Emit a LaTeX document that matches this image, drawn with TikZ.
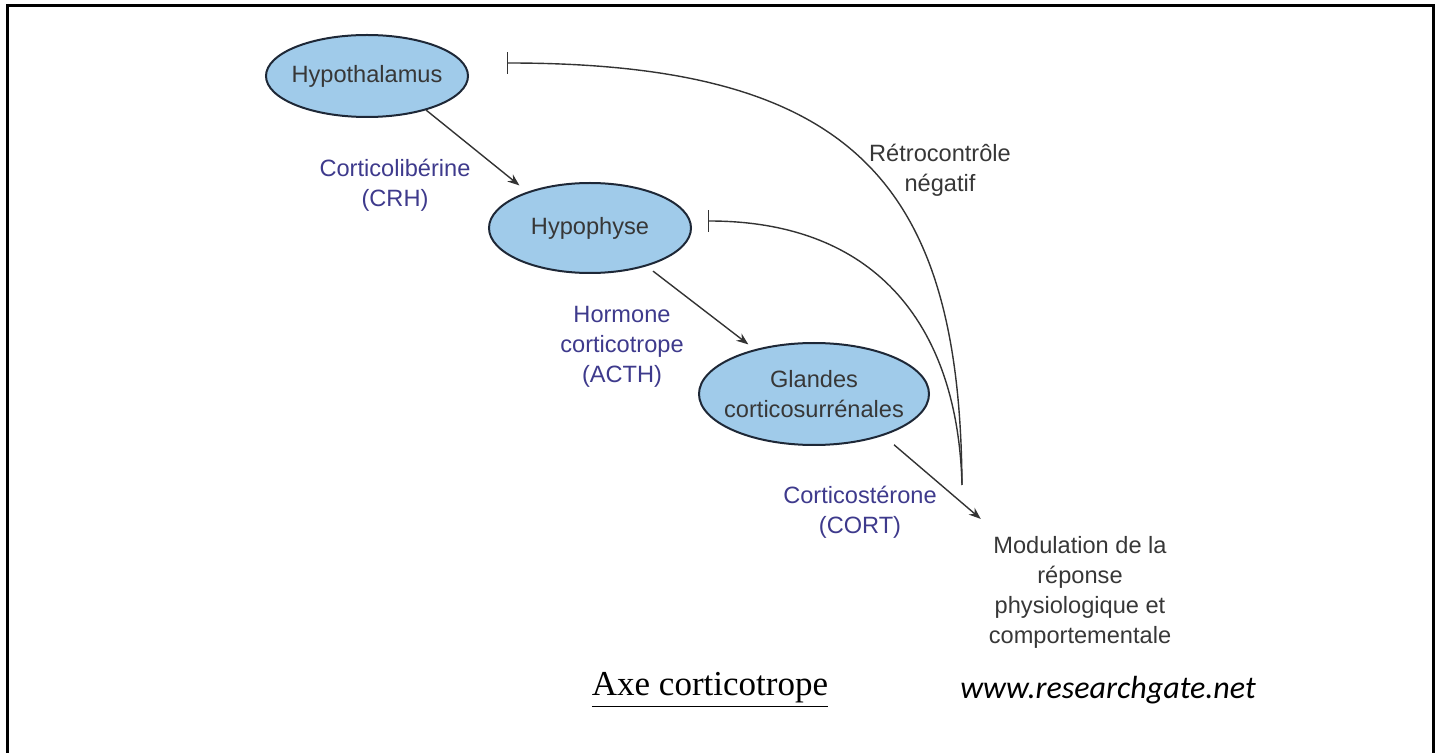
\documentclass[tikz,border=0pt]{standalone}
\usepackage{fontspec}
\setmainfont{Liberation Sans}
\newfontfamily\titlefont{Liberation Serif}
\newfontfamily\webfont{Carlito}
\usetikzlibrary{shapes.geometric,arrows.meta}
\definecolor{organblue}{RGB}{160,203,234}
\definecolor{hormoneblue}{RGB}{62,58,140}
\definecolor{labelgray}{RGB}{55,55,55}
\definecolor{rimdark}{RGB}{30,40,55}

\begin{document}
\begin{tikzpicture}[x=0.5pt,y=-0.5pt,
  font=\fontsize{11.8}{15}\selectfont,
  organ/.style={ellipse,draw=rimdark,line width=1pt,fill=organblue,text=labelgray,align=center,inner xsep=-5pt,inner ysep=0pt},
  hormone/.style={text=hormoneblue,align=center},
  note/.style={text=labelgray,align=center},
  flow/.style={-{Stealth[length=6pt,width=4.5pt]},line width=0.7pt,draw=black!80},
  inhib/.style={-{Bar[width=11pt]},line width=0.7pt,draw=black!80}]
  \useasboundingbox (0,0) rectangle (1441,753);
  \draw[line width=1.5pt] (7,753) -- (7,6) -- (1433,6) -- (1433,753);

  % the axis
  \node[organ,minimum width=101pt,minimum height=41pt] (hypothalamus) at (367,76) {Hypothalamus};
  \node[organ,minimum width=101pt,minimum height=45pt] (hypophyse) at (590,228) {Hypophyse};
  \node[organ,minimum width=115pt,minimum height=51pt] (glandes) at (814,394) {Glandes\\corticosurrénales};

  \node[hormone] (crh) at (395,185) {Corticolibérine\\(CRH)};
  \node[hormone] (acth) at (622,347) {Hormone\\corticotrope\\(ACTH)};
  \node[hormone] (cort) at (860,512) {Corticostérone\\(CORT)};
  \node[note] (retro) at (940,170) {Rétrocontrôle\\négatif};
  \node[note] (modul) at (1080,592) {Modulation de la\\réponse\\physiologique et\\comportementale};

  \node[font=\titlefont\fontsize{17.5}{20}\selectfont] (title) at (710,690) {\underline{Axe corticotrope}};
  \node[font=\webfont\itshape\fontsize{16}{20}\selectfont] (source) at (1108,690) {www.researchgate.net};

  \draw[flow,shorten >=5pt] (hypothalamus.-30) -- (hypophyse.150);
  \draw[flow,shorten <=4pt,shorten >=4pt] (hypophyse.-34) -- (glandes.143);
  \draw[flow,shorten <=7pt] (glandes.-31) -- ([shift={(-1,-10)}]modul.north west);

  % feedback
  \coordinate (stopA) at (507,63);
  \coordinate (stopB) at (708,221);
  \coordinate (fb) at (962,485);
  \draw[inhib] (fb) .. controls (960,180) and (850,63) .. (stopA);
  \draw[inhib] (fb) .. controls (958,330) and (880,221) .. (stopB);
\end{tikzpicture}
\end{document}
